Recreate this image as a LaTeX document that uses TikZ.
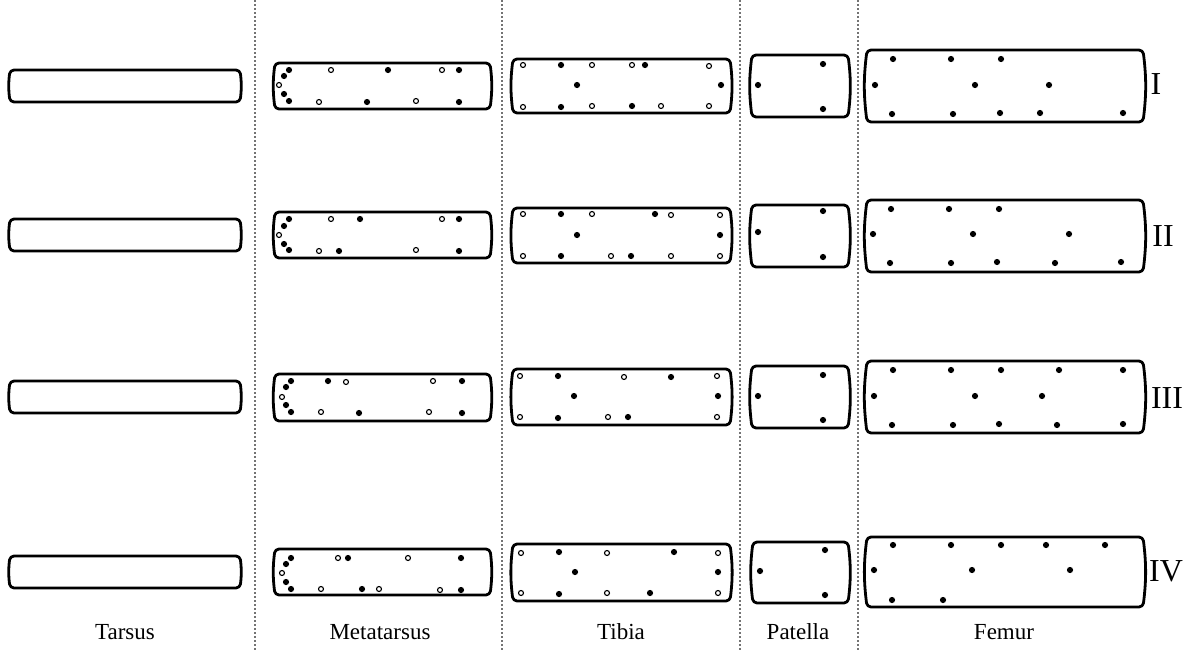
\documentclass[tikz,border=0pt]{standalone}
\usepackage{fontspec}
\setmainfont{Liberation Serif}
\usepackage{tikz}

\begin{document}
\begin{tikzpicture}[
  x=1pt, y=-1pt,
  limb/.style={draw, line width=2.8pt, line join=round, rounded corners=4pt},
  full/.style={fill=black},
  hollow/.style={draw, fill=white, line width=1.1pt},
  divider/.style={draw=black!55, line width=1.8pt, dash pattern=on 1.5pt off 2.5pt},
  segname/.style={font=\fontsize{23}{25}\selectfont, anchor=center},
  legnum/.style={font=\fontsize{32}{34}\selectfont, anchor=center}
]
  \useasboundingbox (0,0) rectangle (1187,651);

  % column dividers
  \foreach \xd in {255,502,740,858}
    \draw[divider] (\xd,0) -- (\xd,651);

  % segment outlines: x1/y1/x2/y2
  \foreach \xa/\ya/\xb/\yb in {
      10/70/240/102, 10/219/240/251, 10/381/240/413, 10/556/240/588,
      275/63/490/109, 275/212/490/258, 275/374/490/421, 275/549/490/595,
      513/59/730/113, 513/208/730/263, 513/369/730/425, 513/544/730/601,
      752/55/848/117, 752/205/848/267, 752/366/848/428, 753/542/848/603,
      867/50/1143/122, 867/200/1143/272, 867/361/1143/433, 867/537/1143/607}
    \draw[limb] ({(\xa+\xb)/2},\ya) -- (\xb,\ya) to[bend left=7] (\xb,\yb)
      -- (\xa,\yb) to[bend left=7] (\xa,\ya) -- cycle;

  % solid setae
  \foreach \p in {
      % metatarsus
      (289,70), (284,76), (284,94), (289,101), (388,70), (367,102), (459,70), (459,102),
      (289,219), (284,226), (284,244), (289,250), (360,219), (339,251), (459,219), (459,251),
      (291,381), (286,387), (286,405), (291,412), (328,381), (359,413), (462,381), (462,413),
      (291,558), (286,564), (286,582), (291,589), (348,558), (362,589), (461,558), (461,590),
      % tibia
      (561,65), (645,65), (577,85), (721,85), (561,107), (632,106),
      (561,214), (655,214), (577,235), (720,235), (561,256), (631,256),
      (558,376), (671,377), (574,396), (718,396), (558,418), (628,417),
      (559,552), (674,552), (575,572), (718,572), (559,594), (650,593),
      % patella
      (823,64), (758,85), (823,109),
      (823,211), (758,232), (823,257),
      (823,375), (758,396), (823,420),
      (825,550), (760,571), (825,595),
      % femur
      (893,59), (951,59), (1001,59), (875,85), (975,85), (1049,85),
      (892,114), (953,114), (1000,113), (1040,113), (1123,113),
      (891,209), (949,209), (999,209), (873,234), (973,234), (1069,234),
      (890,263), (951,263), (997,262), (1055,263), (1121,262),
      (893,370), (951,370), (1001,370), (1059,370), (1123,370),
      (874,396), (975,396), (1042,396),
      (892,425), (953,425), (999,424), (1057,425), (1123,424),
      (893,545), (951,545), (1001,545), (1046,545), (1105,545),
      (874,570), (972,570), (1070,570), (892,600), (943,600)}
    \fill[full] \p circle (3.1);

  % open setae
  \foreach \p in {
      (279,85), (331,70), (319,102), (442,70), (416,101),
      (279,235), (331,219), (319,251), (442,219), (416,250),
      (282,397), (346,382), (321,412), (433,381), (429,412),
      (282,573), (338,558), (321,589), (408,558), (379,589), (440,590),
      (523,65), (592,65), (632,65), (709,66), (523,107), (592,106), (661,106), (709,106),
      (523,214), (592,214), (671,215), (720,215), (523,256), (611,256), (671,256), (720,256),
      (520,376), (624,377), (717,376), (520,417), (608,417), (717,417),
      (521,553), (607,553), (718,553), (521,593), (607,593), (718,593)}
    \draw[hollow] \p circle (2.5);

  % leg numbers
  \node[legnum] (legI)   at (1156,84)  {I};
  \node[legnum] (legII)  at (1163,236) {II};
  \node[legnum] (legIII) at (1167,398) {III};
  \node[legnum] (legIV)  at (1166,571) {IV};

  % segment names
  \node[segname] (tarsus)     at (125,632)  {Tarsus};
  \node[segname] (metatarsus) at (380,632)  {Metatarsus};
  \node[segname] (tibia)      at (621,632)  {Tibia};
  \node[segname] (patella)    at (798,632)  {Patella};
  \node[segname] (femur)      at (1004,632) {Femur};
\end{tikzpicture}
\end{document}
